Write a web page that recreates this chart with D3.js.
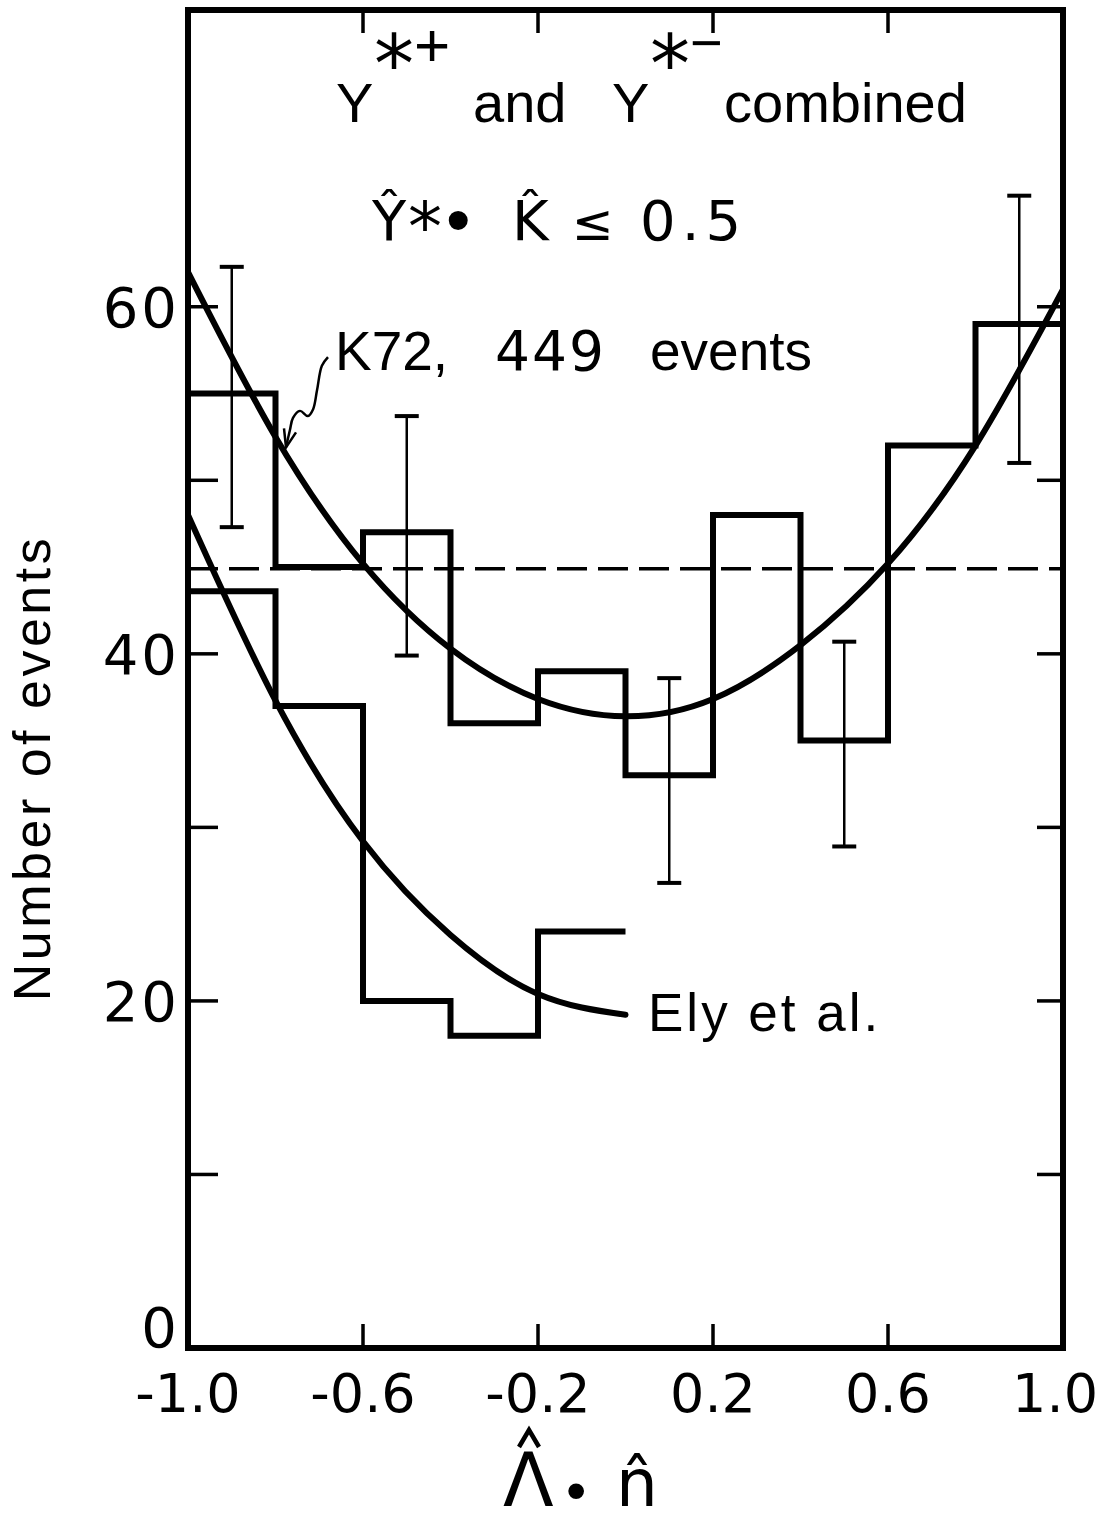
<!DOCTYPE html>
<html>
<head>
<meta charset="utf-8">
<script src="https://cdn.jsdelivr.net/npm/d3@7"></script>
<style>
  body { margin: 0; background: #fff; }
  svg { display: block; }
</style>
</head>
<body>
<div id="chart"></div>
<script>
// bins of lambda . n, width 0.2
const binStarts = [-1.0, -0.8, -0.6, -0.4, -0.2, 0.0, 0.2, 0.4, 0.6, 0.8];
const k72Counts = [55, 45, 47, 36, 39, 33, 48, 35, 52, 59];

// Ely et al. only covers the negative half
const elyStarts = [-1.0, -0.8, -0.6, -0.4, -0.2];
const elyCounts = [43.6, 37, 20, 18, 24];

// error bars drawn on some of the K72 bins
const errX = [-0.9, -0.5, 0.1, 0.5, 0.9];
const errY = [54.8, 46.8, 32.7, 34.8, 58.7];
const errSize = [7.5, 6.9, 5.9, 5.9, 7.7];

// fitted curves
const k72CurveX = [-1.0, -0.8, -0.6, -0.4, -0.2, 0.0, 0.2, 0.4, 0.6, 0.8, 1.0];
const k72CurveY = [62.0, 52.5, 45.2, 40.3, 37.4, 36.4, 37.4, 40.5, 45.2, 52.0, 61.0];
const elyCurveX = [-1.0, -0.8, -0.6, -0.4, -0.2, 0.0];
const elyCurveY = [48.0, 37.3, 29.2, 23.8, 20.4, 19.2];

// isotropic level (449 events / 10 bins)
const flatLevel = 44.9;

const xTicks = [-1.0, -0.6, -0.2, 0.2, 0.6, 1.0];
const xTickLabels = ["-1.0", "-0.6", "-0.2", "0.2", "0.6", "1.0"];
const xInnerTicks = [-0.6, -0.2, 0.2, 0.6];
const yTicks = [10, 20, 30, 40, 50, 60];
const yTickLabels = [0, 20, 40, 60];

// squiggly arrow pointing at the K72 curve (data units)
const arrowX = [-0.680, -0.694, -0.705, -0.714, -0.726, -0.744, -0.760, -0.767, -0.776];
const arrowY = [57.1, 56.6, 55.2, 54.1, 53.7, 54.0, 53.6, 52.9, 51.9];

const width = 1100, height = 1525;
const mLeft = 188, mRight = 1063, mTop = 10, mBottom = 1348;

const x = d3.scaleLinear().domain([-1, 1]).range([mLeft, mRight]);
const y = d3.scaleLinear().domain([0, 77.1]).range([mBottom, mTop]);

const svg = d3.select("#chart").append("svg")
    .attr("width", width)
    .attr("height", height)
    .style("background", "#fff");

svg.append("defs").append("clipPath").attr("id", "frame")
    .append("rect")
    .attr("x", mLeft).attr("y", mTop)
    .attr("width", mRight - mLeft).attr("height", mBottom - mTop);

const plot = svg.append("g").attr("clip-path", "url(#frame)");

// dashed flat line
plot.append("line")
    .attr("x1", x(-1)).attr("x2", x(1))
    .attr("y1", y(flatLevel)).attr("y2", y(flatLevel))
    .attr("stroke", "#000")
    .attr("stroke-width", 3.5)
    .attr("stroke-dasharray", "30,11");

// histograms
const step = d3.line().curve(d3.curveStepAfter).x(d => x(d[0])).y(d => y(d[1]));

const k72Pts = binStarts.map((b, i) => [b, k72Counts[i]]);
k72Pts.push([1.0, k72Counts[k72Counts.length - 1]]);
plot.append("path")
    .attr("d", step(k72Pts))
    .attr("fill", "none")
    .attr("stroke", "#000")
    .attr("stroke-width", 6);

const elyPts = elyStarts.map((b, i) => [b, elyCounts[i]]);
elyPts.push([0.0, elyCounts[elyCounts.length - 1]]);
plot.append("path")
    .attr("d", step(elyPts))
    .attr("fill", "none")
    .attr("stroke", "#000")
    .attr("stroke-width", 6);

// curves
const smooth = d3.line().curve(d3.curveNatural).x(d => x(d[0])).y(d => y(d[1]));
plot.append("path")
    .attr("d", smooth(k72CurveX.map((v, i) => [v, k72CurveY[i]])))
    .attr("fill", "none")
    .attr("stroke", "#000")
    .attr("stroke-width", 6);
plot.append("path")
    .attr("d", smooth(elyCurveX.map((v, i) => [v, elyCurveY[i]])))
    .attr("fill", "none")
    .attr("stroke", "#000")
    .attr("stroke-width", 6)
    .attr("stroke-linecap", "round");

// error bars
const err = plot.append("g").attr("stroke", "#000").attr("stroke-width", 2.5);
errX.forEach((ex, i) => {
    const lo = errY[i] - errSize[i], hi = errY[i] + errSize[i];
    err.append("line").attr("x1", x(ex)).attr("x2", x(ex)).attr("y1", y(lo)).attr("y2", y(hi));
    err.append("line").attr("x1", x(ex) - 12).attr("x2", x(ex) + 12).attr("y1", y(lo)).attr("y2", y(lo)).attr("stroke-width", 4);
    err.append("line").attr("x1", x(ex) - 12).attr("x2", x(ex) + 12).attr("y1", y(hi)).attr("y2", y(hi)).attr("stroke-width", 4);
});

// frame
svg.append("rect")
    .attr("x", mLeft).attr("y", mTop)
    .attr("width", mRight - mLeft).attr("height", mBottom - mTop)
    .attr("fill", "none")
    .attr("stroke", "#000")
    .attr("stroke-width", 6);

// inner ticks
const ticks = svg.append("g").attr("stroke", "#000").attr("stroke-width", 3.5);
xInnerTicks.forEach(t => {
    ticks.append("line").attr("x1", x(t)).attr("x2", x(t)).attr("y1", mBottom).attr("y2", mBottom - 24);
    ticks.append("line").attr("x1", x(t)).attr("x2", x(t)).attr("y1", mTop).attr("y2", mTop + 23);
});
yTicks.forEach(t => {
    ticks.append("line").attr("x1", mLeft).attr("x2", mLeft + 30).attr("y1", y(t)).attr("y2", y(t));
    ticks.append("line").attr("x1", mRight).attr("x2", mRight - 26).attr("y1", y(t)).attr("y2", y(t));
});

// tick labels
const numFont = "DejaVu Sans";
svg.append("g")
    .selectAll("text")
    .data(xTicks)
    .join("text")
    .attr("x", (d, i) => i === xTicks.length - 1 ? width - 2 : x(d))
    .attr("y", 1412)
    .attr("text-anchor", (d, i) => i === xTicks.length - 1 ? "end" : "middle")
    .attr("font-family", numFont)
    .attr("font-size", 54)
    .text((d, i) => xTickLabels[i]);

svg.append("g")
    .selectAll("text")
    .data(yTickLabels)
    .join("text")
    .attr("x", mLeft - 8)
    .attr("y", d => d === 0 ? y(d) - 1 : y(d) + 20)
    .attr("text-anchor", "end")
    .attr("font-family", numFont)
    .attr("font-size", 56)
    .attr("letter-spacing", 3)
    .text(d => d);

// y axis title
svg.append("text")
    .attr("transform", "translate(50,768) rotate(-90)")
    .attr("text-anchor", "middle")
    .attr("font-family", "Liberation Sans")
    .attr("font-size", 52)
    .attr("letter-spacing", 3.5)
    .text("Number of events");

// text made of absolutely placed pieces (superscripts, spacing)
function pieces(g, list, family) {
    const t = g.append("text").attr("font-family", family).attr("fill", "#000");
    list.forEach(p => {
        const s = t.append("tspan")
            .attr("x", p.x).attr("y", p.y)
            .attr("font-size", p.size)
            .text(p.t);
        if (p.family) s.attr("font-family", p.family);
        if (p.ls) s.attr("letter-spacing", p.ls);
    });
    return t;
}

// x axis title
pieces(svg, [
    { t: "Λ", x: 503, y: 1506, size: 74 },
    { t: "•", x: 566, y: 1510, size: 58, family: "Liberation Sans" },
    { t: "n\u0302", x: 616, y: 1506, size: 66 }
], "DejaVu Sans");
// hat over the lambda (the font's combining accent lands off-centre)
svg.append("path")
    .attr("d", "M519,1447L529,1430L539,1447")
    .attr("fill", "none")
    .attr("stroke", "#000")
    .attr("stroke-width", 4.5);

// title lines
pieces(svg, [
    { t: "Y", x: 336, y: 122, size: 56 },
    { t: "*", x: 374, y: 92, size: 80, family: "DejaVu Sans" },
    { t: "+", x: 414, y: 66, size: 62 },
    { t: "and", x: 473, y: 122, size: 56 },
    { t: "Y", x: 612, y: 122, size: 56 },
    { t: "*", x: 650, y: 92, size: 80, family: "DejaVu Sans" },
    { t: "−", x: 690, y: 62, size: 56 },
    { t: "combined", x: 724, y: 122, size: 56 }
], "Liberation Sans");

pieces(svg, [
    { t: "Y\u0302", x: 372, y: 240, size: 56, family: "DejaVu Sans" },
    { t: "*", x: 408, y: 250, size: 68, family: "DejaVu Sans" },
    { t: "•", x: 446, y: 244, size: 70 },
    { t: "K\u0302", x: 512, y: 240, size: 56, family: "DejaVu Sans" },
    { t: "≤", x: 572, y: 240, size: 50, family: "DejaVu Sans" },
    { t: "0.5", x: 640, y: 240, size: 56, family: "DejaVu Sans", ls: 6 }
], "Liberation Sans");

pieces(svg, [
    { t: "K72,", x: 335, y: 370, size: 55 },
    { t: "449", x: 495, y: 370, size: 55, family: "DejaVu Sans", ls: 2 },
    { t: "events", x: 650, y: 370, size: 55 }
], "Liberation Sans");

svg.append("text")
    .attr("x", 648).attr("y", 1031)
    .attr("font-family", "Liberation Sans")
    .attr("font-size", 53)
    .attr("letter-spacing", 3)
    .text("Ely et al.");

// squiggle arrow
const squiggle = d3.line().curve(d3.curveCatmullRom).x(d => x(d[0])).y(d => y(d[1]));
const arrowPts = arrowX.map((v, i) => [v, arrowY[i]]);
svg.append("path")
    .attr("d", squiggle(arrowPts))
    .attr("fill", "none")
    .attr("stroke", "#000")
    .attr("stroke-width", 2.5);
const tip = arrowPts[arrowPts.length - 1];
svg.append("path")
    .attr("d", `M${x(tip[0]) - 2},${y(tip[1]) - 19}L${x(tip[0])},${y(tip[1])}L${x(tip[0]) + 10},${y(tip[1]) - 15}`)
    .attr("fill", "none")
    .attr("stroke", "#000")
    .attr("stroke-width", 2.5);
</script>
</body>
</html>
